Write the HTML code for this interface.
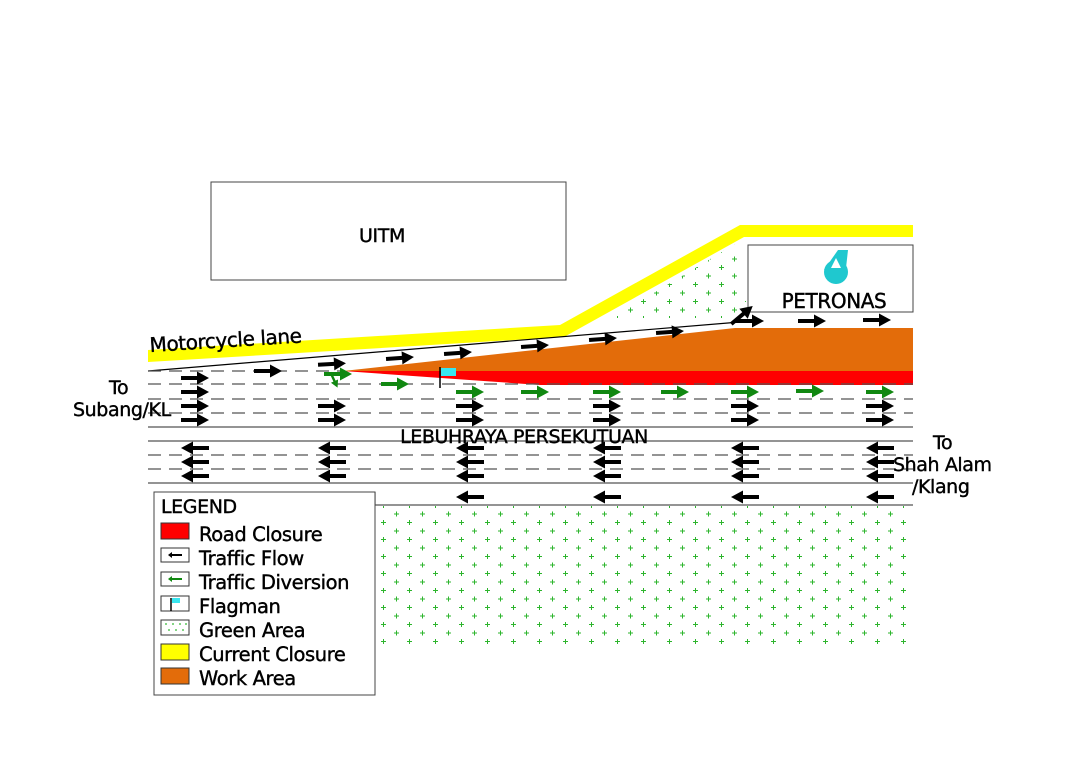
<!DOCTYPE html>
<html><head><meta charset="utf-8"><style>
html,body{margin:0;padding:0;background:#fff}
svg{display:block}
text{font-family:"DejaVu Sans","Liberation Sans",sans-serif;fill:#000;stroke:#000;stroke-width:0.4;letter-spacing:-0.4px}
</style></head><body>
<svg width="1081" height="774" viewBox="0 0 1081 774" xmlns="http://www.w3.org/2000/svg">
<defs>
<symbol id="ar" overflow="visible"><path d="M-14,-2 H2 V-6.5 L14,0 L2,6.5 V2 H-14Z"/></symbol>
<pattern id="dots" x="0" y="0" width="26" height="17" patternUnits="userSpaceOnUse">
<g stroke="#2db52d" stroke-width="1"><path d="M4,4h5M6.5,1.5v5M17,12.5h5M19.5,10v5"/></g>
</pattern>
</defs>
<rect x="211" y="182" width="355" height="98" fill="none" stroke="#444" stroke-width="1"/>
<text x="382" y="242" font-size="19" text-anchor="middle">UITM</text>
<polygon points="612,318 742,240 746,303 735,318" fill="url(#dots)"/>
<rect x="748" y="245" width="165" height="67" fill="#fff" stroke="#444" stroke-width="1"/>
<text x="834" y="308" font-size="20" text-anchor="middle">PETRONAS</text>
<g fill="#1fc8cf">
<circle cx="836" cy="272" r="12"/>
<polygon points="824,270 838,250 848,250 846,268"/>
</g>
<polygon points="836,258 841,268 831,268" fill="#fff"/>
<polygon points="148,350 560,325 740,225 913,225 913,237 744,237 564,337 148,362" fill="#ffff00"/>
<text transform="translate(150,352) rotate(-3.6)" font-size="20">Motorcycle lane</text>
<polygon points="343,371 735,328 913,328 913,371" fill="#e36c0a"/>
<polygon points="343,371 913,371 913,385 540,385" fill="#ff0000"/>
<g stroke="#555" stroke-width="1.2">
<line x1="148" y1="371" x2="740" y2="322" stroke="#000"/>
<g stroke-dasharray="13,8">
<line x1="148" y1="371" x2="345" y2="371"/>
<line x1="148" y1="384" x2="913" y2="384"/>
<line x1="148" y1="399" x2="913" y2="399"/>
<line x1="148" y1="413" x2="913" y2="413"/>
<line x1="148" y1="455" x2="913" y2="455"/>
<line x1="148" y1="469" x2="913" y2="469"/>
</g>
<line x1="148" y1="427" x2="913" y2="427"/>
<line x1="148" y1="441" x2="913" y2="441"/>
<line x1="148" y1="483" x2="913" y2="483"/>
<line x1="375" y1="505" x2="913" y2="505"/>
<line x1="375" y1="492" x2="375" y2="505"/>
</g>
<rect x="376" y="506" width="538" height="140" fill="url(#dots)"/>
<g fill="#000">
<use href="#ar" x="195" y="378"/><use href="#ar" x="195" y="392"/><use href="#ar" x="195" y="406"/><use href="#ar" x="195" y="420"/>
<use href="#ar" x="332" y="406"/><use href="#ar" x="332" y="420"/>
<use href="#ar" x="470" y="406"/><use href="#ar" x="470" y="420"/>
<use href="#ar" x="607" y="406"/><use href="#ar" x="607" y="420"/>
<use href="#ar" x="745" y="406"/><use href="#ar" x="745" y="420"/>
<use href="#ar" x="880" y="406"/><use href="#ar" x="880" y="420"/>
<use href="#ar" x="268" y="371"/>
<g transform="translate(332,364) rotate(-3)"><use href="#ar"/></g>
<g transform="translate(400,358) rotate(-4)"><use href="#ar"/></g>
<g transform="translate(458,353) rotate(-4)"><use href="#ar"/></g>
<g transform="translate(535,346) rotate(-4)"><use href="#ar"/></g>
<g transform="translate(603,339) rotate(-4)"><use href="#ar"/></g>
<g transform="translate(670,332) rotate(-4)"><use href="#ar"/></g>
<use href="#ar" x="812" y="321"/><use href="#ar" x="877" y="320"/>
<use href="#ar" x="750" y="321"/>
<g transform="translate(742,315) rotate(-40)"><use href="#ar"/></g>
</g>
<g fill="#000" transform="scale(-1,1)">
<use href="#ar" x="-195" y="448"/><use href="#ar" x="-195" y="462"/><use href="#ar" x="-195" y="476"/>
<use href="#ar" x="-332" y="448"/><use href="#ar" x="-332" y="462"/><use href="#ar" x="-332" y="476"/>
<use href="#ar" x="-470" y="448"/><use href="#ar" x="-470" y="462"/><use href="#ar" x="-470" y="476"/><use href="#ar" x="-470" y="497"/>
<use href="#ar" x="-607" y="448"/><use href="#ar" x="-607" y="462"/><use href="#ar" x="-607" y="476"/><use href="#ar" x="-607" y="497"/>
<use href="#ar" x="-745" y="448"/><use href="#ar" x="-745" y="462"/><use href="#ar" x="-745" y="476"/><use href="#ar" x="-745" y="497"/>
<use href="#ar" x="-880" y="448"/><use href="#ar" x="-880" y="462"/><use href="#ar" x="-880" y="476"/><use href="#ar" x="-880" y="497"/>
</g>
<g fill="#118811">
<use href="#ar" x="338" y="374"/>
<g transform="translate(334,380) rotate(65)"><use href="#ar" transform="scale(0.6)"/></g>
<use href="#ar" x="395" y="384"/>
<use href="#ar" x="470" y="392"/><use href="#ar" x="535" y="392"/><use href="#ar" x="607" y="392"/>
<use href="#ar" x="675" y="392"/><use href="#ar" x="745" y="392"/><use href="#ar" x="810" y="391"/><use href="#ar" x="880" y="392"/>
</g>
<line x1="440" y1="367" x2="440" y2="388" stroke="#000" stroke-width="1.5"/>
<path d="M441,368 H456 V376 H441Z" fill="#39e6f0"/>
<text x="109" y="394" font-size="19">To</text>
<text x="73" y="416" font-size="19">Subang/KL</text>
<text x="524" y="443" font-size="19" text-anchor="middle">LEBUHRAYA PERSEKUTUAN</text>
<text x="933" y="449" font-size="19">To</text>
<text x="893" y="471" font-size="19">Shah Alam</text>
<text x="912" y="493" font-size="19">/Klang</text>
<rect x="154" y="492" width="221" height="203" fill="#fff" stroke="#444" stroke-width="1"/>
<text x="161" y="513" font-size="19">LEGEND</text>
<rect x="161" y="523" width="28" height="16" fill="#ff0000" stroke="#333"/>
<rect x="161" y="548" width="28" height="14" fill="#fff" stroke="#333"/>
<path d="M170,555 h12" stroke="#000" stroke-width="2"/><path d="M168,555 l4,-3 v6z"/>
<rect x="161" y="572" width="28" height="14" fill="#fff" stroke="#333"/>
<path d="M170,579 h12" stroke="#118811" stroke-width="2"/><path d="M168,579 l4,-3 v6z" fill="#118811"/>
<rect x="161" y="596" width="28" height="15" fill="#fff" stroke="#333"/>
<line x1="171" y1="598" x2="171" y2="611" stroke="#000" stroke-width="1.5"/><rect x="172" y="598" width="8" height="5" fill="#39e6f0"/>
<rect x="161" y="620" width="28" height="15" fill="#fff" stroke="#333"/>
<g fill="#2db52d"><circle cx="166" cy="624" r="0.9"/><circle cx="173" cy="624" r="0.9"/><circle cx="180" cy="624" r="0.9"/><circle cx="186" cy="624" r="0.9"/><circle cx="169" cy="630" r="0.9"/><circle cx="176" cy="630" r="0.9"/><circle cx="183" cy="630" r="0.9"/></g>
<rect x="161" y="644" width="28" height="16" fill="#ffff00" stroke="#333"/>
<rect x="161" y="668" width="28" height="16" fill="#e36c0a" stroke="#333"/>
<g font-size="19.5">
<text x="199" y="541">Road Closure</text>
<text x="199" y="565">Traffic Flow</text>
<text x="199" y="589">Traffic Diversion</text>
<text x="199" y="613">Flagman</text>
<text x="199" y="637">Green Area</text>
<text x="199" y="661">Current Closure</text>
<text x="199" y="685">Work Area</text>
</g>
</svg>
</body></html>
